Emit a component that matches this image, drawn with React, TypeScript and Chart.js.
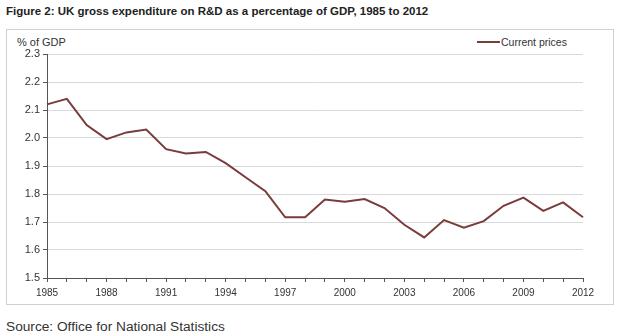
import React, { useEffect, useRef } from "react";
import { Chart, registerables } from "chart.js";

Chart.register(...registerables);

const years: string[] = [
  "1985","1986","1987","1988","1989","1990","1991","1992","1993","1994",
  "1995","1996","1997","1998","1999","2000","2001","2002","2003","2004",
  "2005","2006","2007","2008","2009","2010","2011","2012",
];
const currentPrices: number[] = [
  2.12, 2.14, 2.046, 1.996, 2.02, 2.03, 1.96, 1.945, 1.95, 1.91,
  1.86, 1.81, 1.717, 1.717, 1.78, 1.772, 1.782, 1.75, 1.69, 1.645,
  1.707, 1.68, 1.703, 1.758, 1.787, 1.74, 1.77, 1.717,
];
const labelEvery = 3;
const seriesName = "Current prices";
const lineColor = "#7a3b3b";

export default function App() {
  const ref = useRef<HTMLCanvasElement | null>(null);
  useEffect(() => {
    if (!ref.current) return;
    const chart = new Chart(ref.current, {
      type: "line",
      data: {
        labels: years,
        datasets: [
          {
            label: seriesName,
            data: currentPrices,
            borderColor: lineColor,
            borderWidth: 2,
            pointRadius: 0,
            tension: 0,
          },
        ],
      },
      options: {
        animation: false,
        responsive: false,
        maintainAspectRatio: false,
        layout: { padding: { top: 25, right: 30, left: 0, bottom: 0 } },
        plugins: { legend: { display: false }, tooltip: { enabled: false } },
        scales: {
          x: {
            type: "category",
            offset: false,
            afterFit: (s: any) => { s.height = 26; },
            grid: {
              display: true,
              drawOnChartArea: false,
              drawTicks: true,
              tickLength: 4,
              tickColor: "#555",
            },
            border: { display: true, color: "#555", width: 1 },
            ticks: {
              autoSkip: false,
              maxRotation: 0,
              padding: 5,
              color: "#333",
              font: { family: "'Liberation Sans', Arial, sans-serif", size: 10 },
              callback: (_v: any, i: number) => (i % labelEvery === 0 ? years[i] : ""),
            },
          },
          y: {
            min: 1.5,
            max: 2.3,
            afterFit: (s: any) => { s.width = 41; },
            grid: {
              color: "#d9d9d9",
              tickColor: "#555",
              tickLength: 4,
              drawTicks: true,
            },
            border: { display: true, color: "#555", width: 1 },
            ticks: {
              stepSize: 0.1,
              padding: 3,
              color: "#333",
              font: { family: "'Liberation Sans', Arial, sans-serif", size: 11 },
              callback: (v: any) => Number(v).toFixed(1),
            },
          },
        },
      },
    });
    return () => chart.destroy();
  }, []);

  const font = "'Liberation Sans', Arial, sans-serif";
  return (
    <div style={{ position: "absolute", left: 0, top: 0, width: 620, height: 336, background: "#fff", fontFamily: font, overflow: "hidden" }}>
      <div style={{ position: "absolute", left: 6, top: 5, fontSize: 11.5, fontWeight: "bold", color: "#222", whiteSpace: "nowrap" }}>
        Figure 2: UK gross expenditure on R&amp;D as a percentage of GDP, 1985 to 2012
      </div>
      <div style={{ position: "absolute", left: 6, top: 29, width: 606, height: 274, border: "1px solid #d0d0d0", boxSizing: "content-box" }} />
      <div style={{ position: "absolute", left: 17, top: 36, fontSize: 11, color: "#333", whiteSpace: "nowrap" }}>% of GDP</div>
      <div style={{ position: "absolute", left: 477, top: 36, display: "flex", alignItems: "center", fontSize: 10.5, color: "#333", whiteSpace: "nowrap" }}>
        <span style={{ display: "inline-block", width: 23, height: 2, background: lineColor, marginRight: 1 }} />
        <span>{seriesName}</span>
      </div>
      <canvas ref={ref} width={607} height={275} style={{ position: "absolute", left: 6, top: 29, width: 607, height: 275 }} />
      <div style={{ position: "absolute", left: 6, top: 319, fontSize: 13.7, color: "#333", whiteSpace: "nowrap" }}>
        Source: Office for National Statistics
      </div>
    </div>
  );
}
